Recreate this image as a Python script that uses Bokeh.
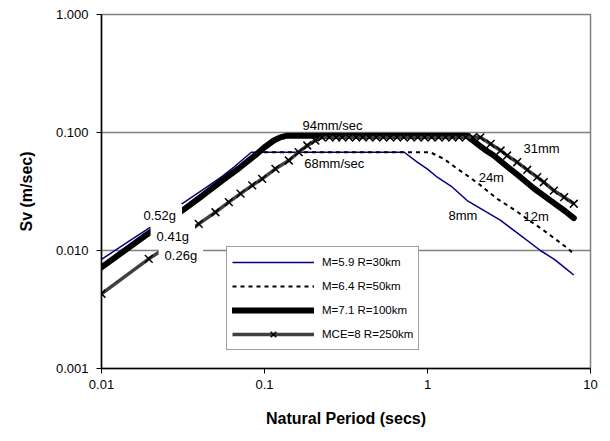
from bokeh.plotting import figure
from bokeh.models import (Label, Legend, LegendItem, FixedTicker, PrintfTickFormatter,
                          CustomJSTickFormatter, Range1d)
from bokeh.embed import file_html
from bokeh.resources import INLINE

# ---------------- data ----------------
t_m59 = [0.01, 0.015, 0.02, 0.03, 0.0435, 0.055, 0.065, 0.083, 0.1, 0.2, 0.4, 0.72,
         0.865, 1.0, 1.148, 1.4, 1.75, 2.2, 2.81, 3.5, 4.93, 6.0, 7.0, 7.9]
sv_m59 = [0.0084, 0.0122, 0.0158, 0.0240, 0.0340, 0.0425, 0.051, 0.068, 0.068, 0.068, 0.068, 0.068,
          0.056, 0.049, 0.0418, 0.035, 0.0265, 0.022, 0.018, 0.0143, 0.010, 0.0084, 0.0071, 0.0062]

t_m64 = [0.01, 0.0186, 0.0313, 0.04, 0.055, 0.07, 0.08, 0.093, 0.3, 0.6, 1.04, 1.26, 1.5,
         1.75, 2.1, 2.68, 3.47, 4.2, 5.0, 6.0, 7.0, 7.9]
sv_m64 = [0.0072, 0.0134, 0.0218, 0.028, 0.0392, 0.050, 0.058, 0.068, 0.068, 0.068, 0.068, 0.0598, 0.050,
          0.0432, 0.036, 0.0274, 0.0218, 0.018, 0.0153, 0.0127, 0.0108, 0.0094]

t_m71 = [0.01, 0.0186, 0.0313, 0.04, 0.055, 0.07, 0.08, 0.09, 0.1, 0.114, 0.125, 0.138, 0.5,
         1.0, 1.75, 2.0, 2.3, 2.55, 3.0, 3.72, 4.5, 5.69, 7.0, 7.9]
sv_m71 = [0.0072, 0.0134, 0.0218, 0.028, 0.0392, 0.050, 0.058, 0.066, 0.075, 0.0855, 0.091, 0.094, 0.094,
          0.094, 0.094, 0.081, 0.070, 0.0638, 0.053, 0.0418, 0.0335, 0.0265, 0.0215, 0.0188]

t_mce = [0.01, 0.0195, 0.03, 0.0395, 0.05, 0.0604, 0.0713, 0.0841, 0.0968, 0.1167, 0.141, 0.162,
         0.183, 0.205, 0.225, 0.25, 0.275, 0.3, 0.33, 0.365, 0.4, 0.44, 0.485, 0.535, 0.59,
         0.65, 0.715, 0.79, 0.87, 0.96, 1.06, 1.17, 1.29, 1.42, 1.56, 1.72, 1.9, 2.11,
         2.44, 2.81, 3.08, 3.55, 4.09, 4.71, 5.17, 5.96, 6.9, 7.9]
sv_mce = [0.0043, 0.0085, 0.0125, 0.0168, 0.0211, 0.0257, 0.0303, 0.0356, 0.0405, 0.0492, 0.0579, 0.0681,
          0.0776, 0.0855, 0.091, 0.091, 0.091, 0.091, 0.091, 0.091, 0.091, 0.091, 0.091, 0.091, 0.091,
          0.091, 0.091, 0.091, 0.091, 0.091, 0.091, 0.091, 0.091, 0.091, 0.091, 0.091, 0.091, 0.091,
          0.080, 0.0704, 0.0638, 0.056, 0.0483, 0.0418, 0.0379, 0.0322, 0.0283, 0.0249]

series_names = ["M=5.9 R=30km", "M=6.4 R=50km", "M=7.1 R=100km", "MCE=8 R=250km"]

x_ticks = [0.01, 0.1, 1, 10]
y_ticks = [0.001, 0.01, 0.1, 1]

# annotation texts and anchor values
ann_texts = ["94mm/sec", "68mm/sec", "31mm", "24m", "8mm", "12m"]
ann_x = [0.261, 0.268, 3.88, 2.06, 1.346, 3.88]
ann_y = [0.1147, 0.0546, 0.0732, 0.0415, 0.0198, 0.0194]
ann_align = ["center", "center", "left", "left", "left", "left"]

acc_texts = ["0.52g", "0.41g", "0.26g"]
acc_x = [0.01663, 0.0200, 0.0224]
acc_y = [0.0198, 0.01314, 0.00907]

FONT = "Liberation Sans"

p = figure(width=606, height=438, x_axis_type="log", y_axis_type="log",
           x_range=Range1d(0.01, 10), y_range=Range1d(0.001, 1),
           output_backend="svg", toolbar_location=None,
           min_border_left=101, min_border_right=16, min_border_top=14, min_border_bottom=70)

p.background_fill_color = "white"
p.border_fill_color = "white"
p.outline_line_color = "#808080"
p.outline_line_width = 1.5

p.xgrid.visible = False
p.ygrid.grid_line_color = "#808080"
p.ygrid.grid_line_width = 1.5
p.ygrid.ticker = FixedTicker(ticks=y_ticks)

p.xaxis.ticker = FixedTicker(ticks=x_ticks, minor_ticks=[])
p.yaxis.ticker = FixedTicker(ticks=y_ticks, minor_ticks=[])
p.yaxis.formatter = PrintfTickFormatter(format="%.3f")
p.xaxis.formatter = CustomJSTickFormatter(code="return String(parseFloat(tick.toPrecision(3)));")

for ax in (p.xaxis[0], p.yaxis[0]):
    ax.axis_line_color = "black"
    ax.axis_line_width = 1.5
    ax.major_tick_line_color = "black"
    ax.major_tick_in = 0
    ax.major_tick_out = 5
    ax.minor_tick_in = 0
    ax.minor_tick_out = 0
    ax.major_label_text_font = FONT
    ax.major_label_text_font_size = "13px"
    ax.major_label_text_color = "black"
    ax.axis_label_text_font = FONT
    ax.axis_label_text_font_size = "16px"
    ax.axis_label_text_font_style = "bold"
    ax.axis_label_text_color = "black"
    ax.axis_label_standoff = 18

p.xaxis.axis_label = "Natural Period (secs)"
p.yaxis.axis_label = "Sv (m/sec)"
p.xaxis.major_label_standoff = 6
p.yaxis.major_label_standoff = 8

r1 = p.line(t_m59, sv_m59, line_color="#000080", line_width=1.5)
r2 = p.line(t_m64, sv_m64, line_color="black", line_width=2, line_dash="4 4")
r3 = p.line(t_m71, sv_m71, line_color="black", line_width=6, line_cap="round", line_join="round")
r4 = p.line(t_mce, sv_mce, line_color="#404040", line_width=3.5)
r5 = p.scatter(t_mce, sv_mce, marker="x", size=11, line_color="black", line_width=1.5)

legend = Legend(items=[LegendItem(label=series_names[0], renderers=[r1]),
                       LegendItem(label=series_names[1], renderers=[r2]),
                       LegendItem(label=series_names[2], renderers=[r3]),
                       LegendItem(label=series_names[3], renderers=[r4, r5])],
                location=(125, 18))
legend.border_line_color = "#404040"
legend.border_line_width = 1
legend.background_fill_color = "white"
legend.background_fill_alpha = 1
legend.padding = 5
legend.spacing = 4
legend.margin = 0
legend.glyph_width = 82
legend.glyph_height = 20
legend.label_height = 20
legend.label_standoff = 8
legend.label_text_font = FONT
legend.label_text_font_size = "11.5px"
legend.label_text_color = "black"
p.add_layout(legend)

for t, x, y, a in zip(ann_texts, ann_x, ann_y, ann_align):
    p.add_layout(Label(x=x, y=y, text=t, text_font=FONT, text_font_size="13px",
                       text_align=a, text_baseline="middle", text_color="black"))

for t, x, y in zip(acc_texts, acc_x, acc_y):
    p.add_layout(Label(x=x, y=y, text=t, text_font=FONT, text_font_size="13px",
                       text_align="left", text_baseline="middle", text_color="black",
                       background_fill_color="white", padding=(6, 4)))

open("out.html", "w").write(file_html(p, INLINE))
